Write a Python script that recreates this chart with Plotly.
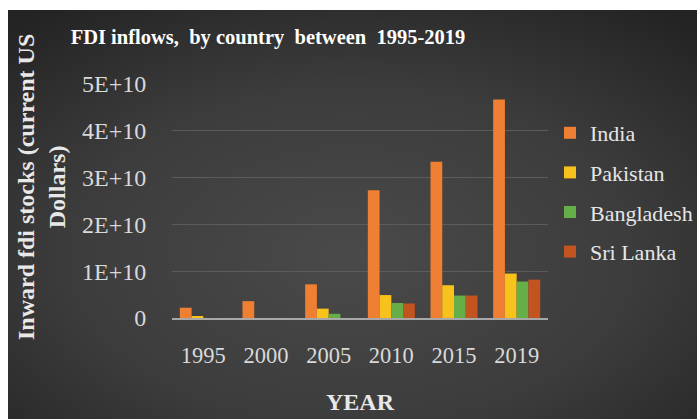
import base64
import plotly.graph_objects as go

# Inward FDI stock by country (current US$)
years = ["1995", "2000", "2005", "2010", "2015", "2019"]
india = [2.2e9, 3.6e9, 7.2e9, 2.73e10, 3.34e10, 4.67e10]
pakistan = [0.4e9, None, 2.0e9, 4.9e9, 7.0e9, 9.5e9]
bangladesh = [None, None, 0.9e9, 3.2e9, 4.8e9, 7.8e9]
sri_lanka = [None, None, None, 3.1e9, 4.8e9, 8.2e9]

countries = ["India", "Pakistan", "Bangladesh", "Sri Lanka"]
colors = ["#EE7F33", "#F7C21C", "#66AE48", "#C25420"]
y_ticks = [0, 1e10, 2e10, 3e10, 4e10, 5e10]
y_tick_text = ["0", "1E+10", "2E+10", "3E+10", "4E+10", "5E+10"]

W, H = 697, 419
L, R, T, B = 172, 149, 84, 101

SERIF = "Liberation Serif"

fig = go.Figure()
for i, (name, vals) in enumerate(zip(countries, [india, pakistan, bangladesh, sri_lanka])):
    fig.add_trace(go.Bar(
        x=years, y=vals, name=name,
        marker=dict(color=colors[i], line=dict(width=0)),
        legendgroup=name,
    ))

# dark panel with a soft radial shading
svg = f"""<svg xmlns='http://www.w3.org/2000/svg' width='689' height='409'>
<defs><radialGradient id='g' cx='0.5' cy='0.6' r='0.75'>
<stop offset='0' stop-color='#4a4a4a'/><stop offset='0.55' stop-color='#3c3c3c'/>
<stop offset='1' stop-color='#232323'/></radialGradient></defs>
<rect width='689' height='409' fill='url(#g)'/></svg>"""
src = "data:image/svg+xml;base64," + base64.b64encode(svg.encode()).decode()
pw, ph = W - L - R, H - T - B
fig.add_layout_image(dict(
    source=src, xref="paper", yref="paper",
    x=(8 - L) / pw, y=(H - B - 10) / ph,
    sizex=(W - 8) / pw, sizey=(H - 10) / ph,
    xanchor="left", yanchor="top", sizing="stretch", layer="below",
))

fig.update_layout(
    width=W, height=H,
    margin=dict(l=L, r=R, t=T, b=B, autoexpand=False),
    paper_bgcolor="white",
    plot_bgcolor="rgba(0,0,0,0)",
    barmode="group", bargap=0.25, bargroupgap=0,
    font=dict(family=SERIF, color="#d9d9d9", size=21),
    title=dict(
        text="<b>FDI inflows,  by country  between  1995-2019</b>",
        x=268 / W, xanchor="center", xref="container",
        y=1 - 37 / H, yanchor="middle", yref="container",
        font=dict(family=SERIF, size=20.5, color="#ffffff"),
    ),
    xaxis=dict(
        type="category",
        showgrid=False, showline=True, linecolor="#a8a8a8", linewidth=2,
        ticks="outside", ticklen=16, tickcolor="rgba(0,0,0,0)",
        tickfont=dict(family=SERIF, size=22.5, color="#d9d9d9"),
        title=dict(text="<b>YEAR</b>", font=dict(family=SERIF, size=24, color="#e8e8e8"),
                   standoff=26),
    ),
    yaxis=dict(
        range=[0, 5e10],
        tickvals=y_ticks, ticktext=y_tick_text,
        showgrid=True, gridcolor="#5c5c5c", gridwidth=1,
        zeroline=False, showline=False,
        ticks="outside", ticklen=20, tickcolor="rgba(0,0,0,0)",
        tickfont=dict(family=SERIF, size=24, color="#d9d9d9"),
    ),
    legend=dict(
        x=(550 - L) / pw, xanchor="left",
        y=(H - B - 112) / ph, yanchor="top",
        font=dict(family=SERIF, size=22, color="#e6e6e6"),
        bgcolor="rgba(0,0,0,0)", tracegroupgap=8,
        itemwidth=30,
    ),
    showlegend=True,
)

fig.add_annotation(
    text="<b>Inward fdi stocks (current US<br>Dollars)</b>",
    xref="paper", yref="paper",
    x=(41 - L) / pw, y=(H - B - 187) / ph,
    xanchor="center", yanchor="middle",
    textangle=-90, showarrow=False,
    font=dict(family=SERIF, size=24, color="#e8e8e8"),
)

fig.write_html("out.html")
